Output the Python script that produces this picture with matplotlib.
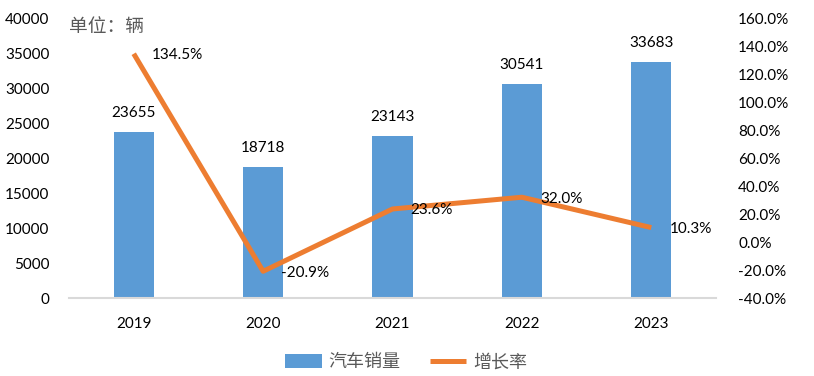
import matplotlib.pyplot as plt
from matplotlib.ticker import FuncFormatter

plt.rcParams['font.family'] = ['Lato', 'Noto Sans CJK SC', 'DejaVu Sans']

years = ["2019", "2020", "2021", "2022", "2023"]
sales = [23655, 18718, 23143, 30541, 33683]
growth = [134.5, -20.9, 23.6, 32.0, 10.3]

BAR_COLOR = "#5B9BD5"
LINE_COLOR = "#ED7D31"
TEXT_COLOR = "#000000"

fig = plt.figure(figsize=(8.14, 3.76), dpi=100)
ax = fig.add_axes([0.0848, 0.2074, 0.7948, 0.7446])
ax2 = ax.twinx()

x = list(range(len(years)))
bars = ax.bar(x, sales, width=0.31, color=BAR_COLOR, label="汽车销量", zorder=2)
ax.set_xlim(-0.5, len(years) - 0.5)
ax.set_ylim(0, 40000)
ax.set_yticks(range(0, 40001, 5000))
ax.set_xticks(x)
ax.set_xticklabels(years)

for rect, v in zip(bars, sales):
    ax.annotate(str(v), (rect.get_x() + rect.get_width() / 2, v),
                xytext=(0, 9), textcoords="offset points",
                ha="center", va="bottom", fontsize=11, color=TEXT_COLOR)

line, = ax2.plot(x, growth, color=LINE_COLOR, lw=3.6, label="增长率",
                 solid_capstyle="butt", zorder=3)
ax2.set_ylim(-40, 160)
ax2.set_yticks(range(-40, 161, 20))
ax2.yaxis.set_major_formatter(FuncFormatter(lambda v, p: f"{v:.1f}%"))

for xi, g in zip(x, growth):
    ax2.annotate(f"{g:.1f}%", (xi, g), xytext=(13, -1), textcoords="offset points",
                 ha="left", va="center", fontsize=11, color=TEXT_COLOR)

for a in (ax, ax2):
    for s in a.spines.values():
        s.set_visible(False)
    a.tick_params(length=0, labelsize=11, colors=TEXT_COLOR)
ax.spines["bottom"].set_visible(True)
ax.spines["bottom"].set_color("#D9D9D9")
ax.spines["bottom"].set_linewidth(1.5)
ax.tick_params(axis="x", pad=14)
ax.tick_params(axis="y", pad=14)
ax2.tick_params(axis="y", pad=16)

ax.text(0.0, 0.97, "单位：辆", transform=ax.transAxes, fontsize=13.5,
        color="#595959", ha="left", va="center")

ax.set_zorder(ax2.get_zorder() - 1)
ax.patch.set_visible(False)

fig.legend(handles=[bars, line], labels=["汽车销量", "增长率"], loc="center",
           bbox_to_anchor=(0.499, 0.037), ncol=2, frameon=False, fontsize=13,
           handlelength=2.0, handletextpad=0.4, columnspacing=1.6,
           handleheight=0.8, labelcolor="#595959")

fig.savefig("out.png", dpi=100)
